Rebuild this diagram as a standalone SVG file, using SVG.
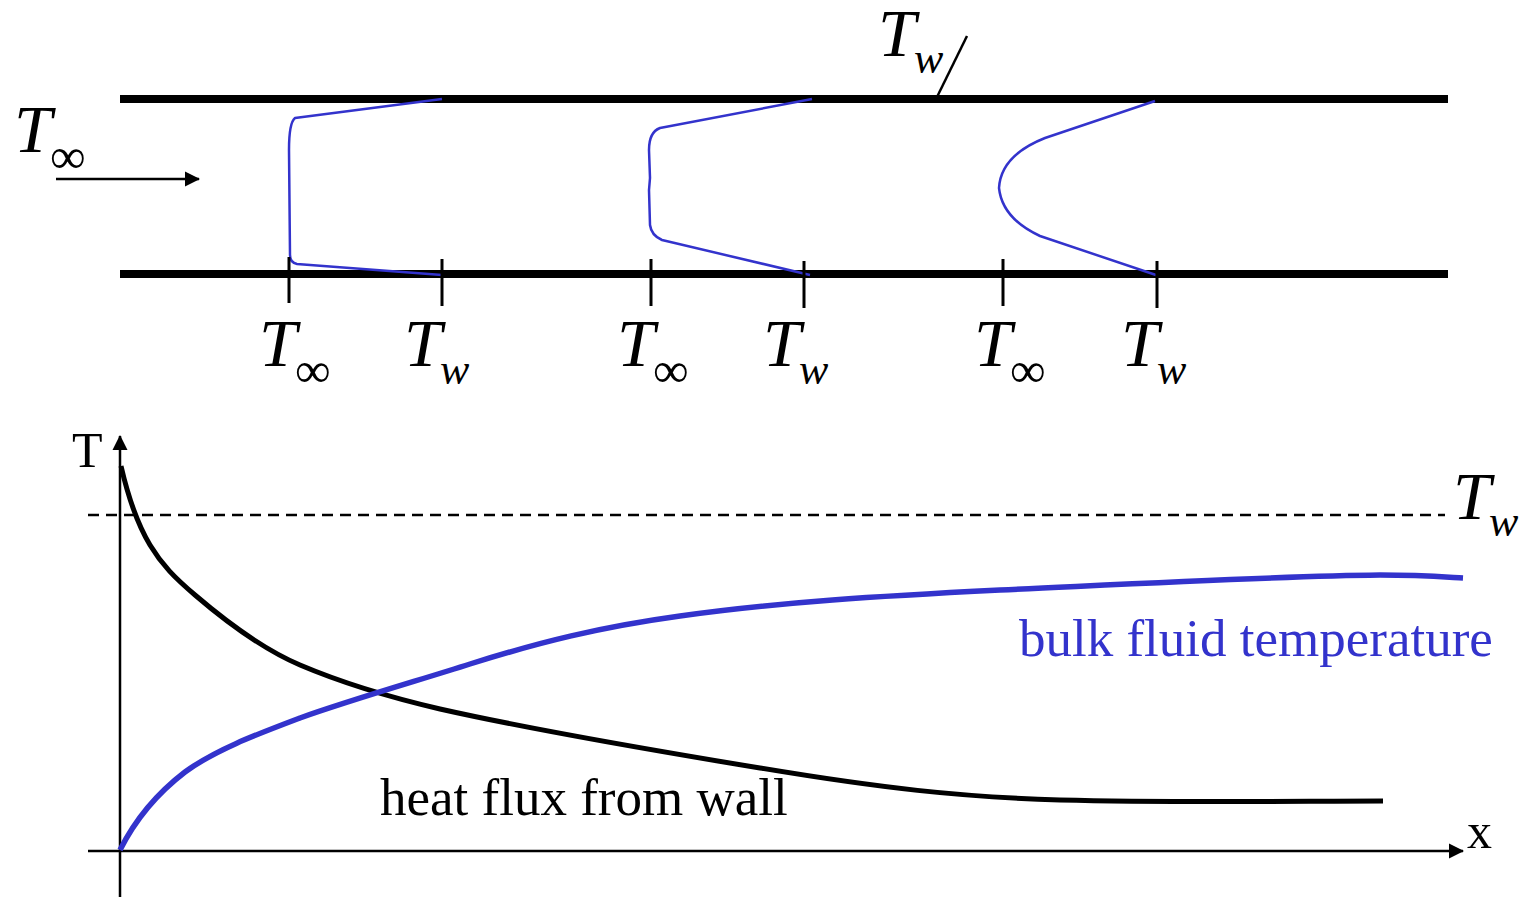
<svg xmlns="http://www.w3.org/2000/svg" width="1522" height="897" viewBox="0 0 1522 897">
<style>
.wall{stroke:#000;stroke-width:8;fill:none}
.tick{stroke:#000;stroke-width:3;fill:none}
.prof{stroke:#3333CC;stroke-width:2.5;fill:none;stroke-linejoin:round}
.ax{stroke:#000;stroke-width:2.5;fill:none}
.big{font-family:"Liberation Serif","Times New Roman",serif;font-style:italic;font-size:68px;fill:#000}
.sub{font-family:"Liberation Serif","Times New Roman",serif;font-size:50px;fill:#000}
.subi{font-family:"Liberation Serif","Times New Roman",serif;font-style:italic;font-size:44px;fill:#000}
.lbl{font-family:"Liberation Serif","Times New Roman",serif;font-size:50px;fill:#000}
</style>
<defs>
<marker id="ah" markerWidth="16" markerHeight="16" refX="14" refY="8" orient="auto" markerUnits="userSpaceOnUse">
<path d="M0,0.5 L15,8 L0,15.5 Z" fill="#000"/>
</marker>
</defs>
<g id="pipe">
<line class="wall" x1="120" y1="99" x2="1448" y2="99"/>
<line class="wall" x1="120" y1="274" x2="1448" y2="274"/>
<line x1="937" y1="97" x2="967" y2="36" stroke="#000" stroke-width="2.5"/>
<text class="big" x="878" y="56">T</text><text class="subi" x="914" y="73">w</text>
</g>
<g id="inlet">
<text class="big" x="14" y="152">T</text><text class="sub" x="50" y="173">∞</text>
<line x1="56" y1="179" x2="199" y2="179" stroke="#000" stroke-width="2.5" marker-end="url(#ah)"/>
</g>
<g id="profile1">
<path class="prof" d="M442,99 L295,118 C290,122 289,135 289,150 L290,255 C290,260 292,263 297,264 L442,275"/>
<line class="tick" x1="289" y1="257" x2="289" y2="303"/>
<line class="tick" x1="442" y1="259" x2="442" y2="306"/>
<text class="big" x="259" y="366">T</text><text class="sub" x="295" y="387">∞</text>
<text class="big" x="404" y="366">T</text><text class="subi" x="440" y="384">w</text>
</g>
<g id="profile2">
<path class="prof" d="M812,99 L660,128 C652,131 649,138 649,150 L650,178 L649,190 L650,225 C651,233 655,237 662,240 L810,275"/>
<line class="tick" x1="651" y1="259" x2="651" y2="306"/>
<line class="tick" x1="804" y1="261" x2="804" y2="308"/>
<text class="big" x="617" y="366">T</text><text class="sub" x="653" y="387">∞</text>
<text class="big" x="763" y="366">T</text><text class="subi" x="799" y="384">w</text>
</g>
<g id="profile3">
<path class="prof" d="M1155,101 L1045,138 C1012,151 1000,170 999,188 C1001,207 1012,223 1040,236 L1156,275"/>
<line class="tick" x1="1003" y1="259" x2="1003" y2="306"/>
<line class="tick" x1="1157" y1="261" x2="1157" y2="308"/>
<text class="big" x="974" y="366">T</text><text class="sub" x="1010" y="387">∞</text>
<text class="big" x="1121" y="366">T</text><text class="subi" x="1157" y="384">w</text>
</g>
<g id="axes">
<line class="ax" x1="120" y1="897" x2="120" y2="436" marker-end="url(#ah)"/>
<line class="ax" x1="88" y1="851" x2="1463" y2="851" marker-end="url(#ah)"/>
<text class="lbl" x="72" y="467">T</text>
<text class="lbl" x="1467" y="848">x</text>
<line x1="88" y1="515" x2="1445" y2="515" stroke="#000" stroke-width="2.5" stroke-dasharray="11,7"/>
<text class="big" x="1453" y="519">T</text><text class="subi" x="1489" y="536">w</text>
</g>
<g id="heatflux">
<path d="M121,466 C127,492 135,520 150,545 C162,565 175,578 195,595 C230,625 265,650 300,665 C340,682 380,695 440,709 C520,727 620,745 760,768 C880,788 960,797 1060,800 C1180,803 1300,801 1383,801" fill="none" stroke="#000" stroke-width="5"/>
<text x="380" y="815" font-family="Liberation Serif, Times New Roman, serif" font-size="53" fill="#000">heat flux from wall</text>
</g>
<g id="bulk">
<path d="M120,850 C135,820 155,795 185,772 C215,750 255,735 300,718 C350,700 420,680 470,664 C540,642 600,627 680,616 C780,602 880,596 1000,590 C1150,583 1280,576 1380,575 C1420,575 1445,577 1463,578" fill="none" stroke="#3333CC" stroke-width="5.5"/>
<text x="1019" y="656" font-family="Liberation Serif, Times New Roman, serif" font-size="53" fill="#3333CC">bulk fluid temperature</text>
</g>
</svg>
